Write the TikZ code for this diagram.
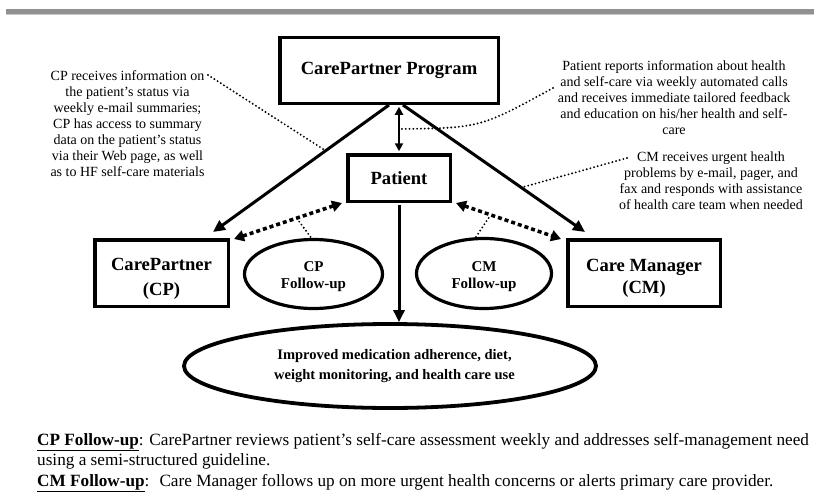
\documentclass[tikz,border=0pt]{standalone}
\usepackage{fontspec}
\setmainfont{Liberation Serif}
\usetikzlibrary{arrows.meta,shapes.geometric,calc}
\begin{document}
\begin{tikzpicture}[x=1pt,y=-1pt,
  box/.style={draw,line width=3.5pt,inner sep=0pt,align=center,font=\bfseries\fontsize{18.6}{25}\selectfont},
  oval/.style={draw,ellipse,line width=3.2pt,inner sep=0pt,align=center,font=\bfseries\fontsize{15}{17}\selectfont},
  note/.style={inner sep=0pt,align=center,font=\fontsize{14}{16}\selectfont},
  solidarrow/.style={line width=3pt,-{Triangle[length=12pt,width=11pt]}},
  biarrow/.style={line width=2pt,{Triangle[length=8pt,width=8pt]}-{Triangle[length=8pt,width=8pt]}},
  dasharrow/.style={line width=3.5pt,dash pattern=on 4pt off 3pt,{Triangle[length=10pt,width=11pt]}-{Triangle[length=10pt,width=11pt]}},
  dotline/.style={line width=2.1pt,line cap=round,dash pattern=on 0pt off 3.8pt}]
\useasboundingbox (0,0) rectangle (814,495);
% top bar
\fill[black!43] (6,9) rectangle (814,14);
\fill[black!22] (6,14) rectangle (814,15.3);
% boxes
\node[box,minimum width=218.5pt,minimum height=65.5pt] (prog) at (389,70.5) {CarePartner Program};
\node[box,minimum width=102.5pt,minimum height=46.5pt] (patient) at (399,178) {Patient};
\node[box,minimum width=133.5pt,minimum height=66.5pt] (cp) at (161.5,273) {\rule{0pt}{24pt}CarePartner\\(CP)};
\node[box,minimum width=152.5pt,minimum height=66.5pt] (cm) at (644,273) {\rule{0pt}{22pt}Care Manager\\[-3pt](CM)};
% ovals
\node[oval,minimum width=138pt,minimum height=69pt] (cpf) at (313.5,274) {\rule{0pt}{16pt}CP\\Follow-up};
\node[oval,minimum width=135pt,minimum height=70pt] (cmf) at (484,273.5) {\rule{0pt}{16pt}CM\\Follow-up};
\node[oval,line width=3.8pt,minimum width=412pt,minimum height=84pt,font=\bfseries\fontsize{14.5}{20}\selectfont] (out) at (390,366) {\hspace*{9pt}Improved medication adherence, diet,\\\hspace*{9pt}weight monitoring, and health care use};
% notes
\node[note,anchor=north] (cpnote) at (127.5,70) {CP receives information on\\the patient’s status via\\weekly e-mail summaries;\\CP has access to summary\\data on the patient’s status\\via their Web page, as well\\as to HF self-care materials};
\node[note,anchor=north] (ptnote) at (674,60) {Patient reports information about health\\and self-care via weekly automated calls\\and receives immediate tailored feedback\\and education on his/her health and self-\\care};
\node[note,anchor=north] (cmnote) at (711,151.5) {CM receives urgent health\\problems by e-mail, pager, and\\fax and responds with assistance\\of health care team when needed};
% footer
\node[anchor=north west,inner sep=0pt,align=left,font=\fontsize{17.2}{20.5}\selectfont] (foot) at (37,433) {\underline{\textbf{CP Follow-up}}: CarePartner reviews patient’s self-care assessment weekly and addresses self-management need\\using a semi-structured guideline.\\\underline{\textbf{CM Follow-up}}:~ Care Manager follows up on more urgent health concerns or alerts primary care provider.};
% solid arrows
\draw[solidarrow] (prog.south) -- coordinate[pos=0.36] (lmid) ($(cp.north east)+(-17,-6)$);
\draw[solidarrow] ($(prog.south)+(14,0)$) -- coordinate[pos=0.65] (rmid) ($(cm.north west)+(19,-6)$);
\coordinate (ptop) at ($(patient.north)+(0,-1.75)$);
\coordinate (pbot) at ($(patient.north |- prog.south)+(0,1.75)$);
\draw[biarrow] (ptop) -- coordinate[pos=0.5] (bmid) (pbot);
\draw[solidarrow] ($(patient.south)+(0,1.75)$) -- (patient.south |- out.north);
% dashed arrows
\draw[dasharrow] ($(patient.south west)+(-4,0)$) -- coordinate[pos=0.42] (ld) ($(cp.north east)+(4,1)$);
\draw[dasharrow] ($(patient.south east)+(4,0)$) -- coordinate[pos=0.33] (rd) ($(cm.north west)+(-5,1)$);
% dotted
\draw[dotline] ($(cpf.north)+(-3,-1)$) -- (ld);
\draw[dotline] ($(cmf.north)+(-8,0)$) -- (rd);
\coordinate (cpa) at (208,75);
\draw[dotline] (cpa) -- (lmid);
\coordinate (pta) at (553,88);
\draw[dotline] (pta) .. controls (480,128) .. (bmid);
\coordinate (cma) at (627,158);
\draw[dotline] (cma) -- (rmid);
\end{tikzpicture}
\end{document}
